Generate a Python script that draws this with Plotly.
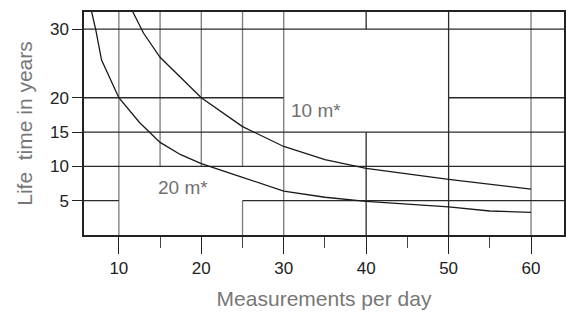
import plotly.graph_objects as go

# ─── Data ────────────────────────────────────────────────────────────────────

# 10 m* curve (upper)
x_10m = [11.7, 13, 15, 20, 25, 30, 35, 40, 50, 60]
y_10m = [32.5, 29.4, 25.9, 20, 15.8, 12.9, 11.0, 9.7, 8.1, 6.7]

# 20 m* curve (lower)
x_20m = [6.7, 7.2, 7.9, 10, 12.5, 15, 17.5, 20, 25, 30, 35, 40, 45, 50, 55, 60]
y_20m = [32.5, 29.9, 25.5, 20, 16.4, 13.5, 11.7, 10.4, 8.4, 6.4, 5.5, 4.9, 4.5, 4.1, 3.5, 3.3]

y_ticks = [5, 10, 15, 20, 30]

X_MIN, X_MAX = 5.77, 64.0
Y_MIN, Y_MAX = 0, 32.5

# grid pieces: the chart leaves white boxes behind the curve labels
v_grid = [  # (x, y from, y to)
    (10, Y_MIN, Y_MAX), (15, 10, Y_MAX), (20, 10, Y_MAX),
    (25, 10, Y_MAX), (25, Y_MIN, 5), (30, Y_MIN, Y_MAX),
    (40, 30, Y_MAX), (40, Y_MIN, 15), (50, Y_MIN, Y_MAX), (60, Y_MIN, Y_MAX),
]
h_grid = [  # (y, x from, x to)
    (30, X_MIN, X_MAX), (20, X_MIN, 30), (20, 50, X_MAX),
    (15, X_MIN, X_MAX), (10, X_MIN, X_MAX), (5, X_MIN, 10), (5, 25, X_MAX),
]

# ─── Figure ──────────────────────────────────────────────────────────────────

fig = go.Figure()
line_style = dict(color="#1a1a1a", width=1.3)
fig.add_trace(go.Scatter(x=x_10m, y=y_10m, mode="lines", line=line_style, showlegend=False))
fig.add_trace(go.Scatter(x=x_20m, y=y_20m, mode="lines", line=line_style, showlegend=False))

for x, y0, y1 in v_grid:
    col = "#2a2a2a" if x in (40, 50) else "#7a7a7a"
    fig.add_shape(type="line", x0=x, x1=x, y0=y0, y1=y1, xref="x", yref="y",
                  line=dict(color=col, width=1.3), layer="below")
for y, x0, x1 in h_grid:
    fig.add_shape(type="line", x0=x0, x1=x1, y0=y, y1=y, xref="x", yref="y",
                  line=dict(color="#2a2a2a", width=1.3), layer="below")

fig.add_annotation(x=30.6, y=18.2, text="10 m*", showarrow=False, xanchor="left",
                   font=dict(size=19, color="#707070"))
fig.add_annotation(x=14.5, y=6.9, text="20 m*", showarrow=False, xanchor="left",
                   font=dict(size=19, color="#707070"))

fig.update_layout(
    width=566, height=322,
    margin=dict(l=84, r=2, t=12, b=87, autoexpand=False),
    plot_bgcolor="white", paper_bgcolor="white",
    font=dict(family="Liberation Sans, Arial, sans-serif", size=17, color="#222"),
    xaxis=dict(
        range=[X_MIN, X_MAX], showgrid=False, zeroline=False, automargin=False,
        tick0=0, dtick=10, ticks="outside", ticklen=17, tickwidth=1.3, tickcolor="#222",
        minor=dict(tick0=0, dtick=5, ticks="outside", ticklen=11, tickwidth=1.3, tickcolor="#444"),
        showline=True, linecolor="#222", linewidth=1.5, mirror=True,
        title=dict(text="Measurements per day", font=dict(size=21, color="#777"), standoff=14),
    ),
    yaxis=dict(
        range=[Y_MIN, Y_MAX], showgrid=False, zeroline=False, automargin=False,
        tickvals=y_ticks, ticks="outside", ticklen=10, tickwidth=1.3, tickcolor="#222",
        showline=True, linecolor="#222", linewidth=1.5, mirror=True,
        title=dict(text="Life\u00a0 time in years", font=dict(size=21, color="#777"), standoff=12),
    ),
)

fig.write_html("out.html", config={"displayModeBar": False},
               post_script="document.body.style.margin='0';")
